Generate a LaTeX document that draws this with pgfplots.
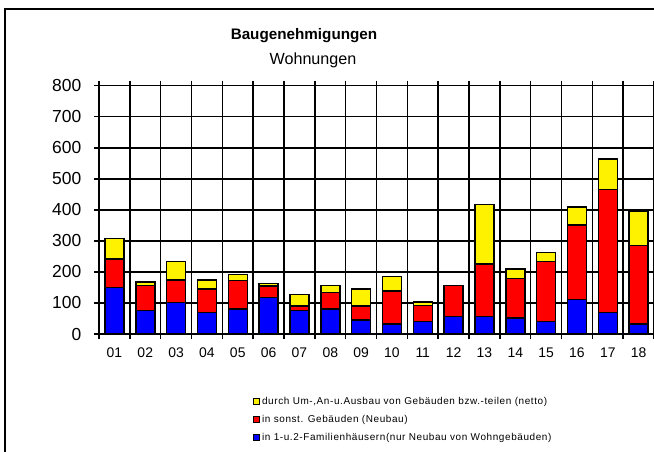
\documentclass[border=0pt]{standalone}
\usepackage{pgfplots}
\pgfplotsset{compat=1.18}
\usepackage{fontspec}
\setmainfont{Liberation Sans}
\newfontfamily\legfont[LetterSpace=6]{Liberation Sans}
\begin{document}
\begin{tikzpicture}[x=1bp,y=1bp]
\useasboundingbox (0,0) rectangle (654,-452);
\begin{scope}
\clip (0,0) rectangle (654,-452);
\draw[line width=1.4bp] (5,-9) rectangle (700,-500);
\end{scope}
\node[font=\bfseries\fontsize{15.3}{18}\selectfont, anchor=base, inner sep=0pt] at (304,-40) {Baugenehmigungen};
\node[font=\fontsize{16.2}{19}\selectfont, anchor=base, inner sep=0pt] at (313,-65) {Wohnungen};
\begin{axis}[
  at={(99bp,-334bp)}, anchor=south west,
  scale only axis, width=555bp, height=248.3bp,
  xmin=0.5, xmax=18.5, ymin=0, ymax=800,
  ybar stacked, bar width=19bp,
  axis line style={line width=1.5bp, black},
  xtick={1,...,18},
  xticklabels={01,02,03,04,05,06,07,08,09,10,11,12,13,14,15,16,17,18},
  minor xtick={0.5,1.5,...,18.5},
  ytick={0,100,...,800},
  xmajorgrids=false, xminorgrids=true, ymajorgrids=true,
  grid style={line width=1.5bp, black},
  minor grid style={line width=1.5bp, black},
  major x tick style={draw=none},
  minor x tick style={line width=1.5bp, black},
  major y tick style={line width=1.5bp, black},
  tick align=outside, major tick length=5bp, minor tick length=5bp,
  /pgf/number format/assume math mode=true,
  yticklabel style={font=\fontsize{17.5}{20}\selectfont, inner sep=0pt, xshift=-12.5bp},
  xticklabel style={font=\fontsize{14}{17}\selectfont, inner sep=0pt, yshift=-9bp},
  reverse legend,
  legend cell align=left,
  legend style={draw=none, fill=none, at={(0.278,-0.245)}, anchor=north west,
    font=\legfont\fontsize{10}{11}\selectfont, row sep=5.5bp, inner sep=0pt},
  legend image code/.code={\draw[#1, draw=black, line width=0.6bp] (0bp,-3bp) rectangle (6bp,3bp);},
]
\addplot[fill=blue, draw=black, line width=1.5bp] coordinates {
(1,150) (2,75) (3,102) (4,69) (5,80) (6,117) (7,75) (8,80) (9,45)
(10,33) (11,40) (12,57) (13,57) (14,52) (15,40) (16,111) (17,70) (18,33)};
\addplot[fill=red, draw=black, line width=1.5bp] coordinates {
(1,92) (2,81) (3,72) (4,76) (5,93) (6,38) (7,16) (8,53) (9,46)
(10,106) (11,52) (12,99) (13,169) (14,127) (15,193) (16,240) (17,396) (18,252)};
\addplot[fill=yellow, draw=black, line width=1.5bp] coordinates {
(1,66) (2,11) (3,59) (4,29) (5,19) (6,7) (7,37) (8,24) (9,54)
(10,47) (11,11) (12,0) (13,192) (14,30) (15,29) (16,58) (17,98) (18,110)};
\legend{{in 1-u.2-Familienhäusern(nur Neubau von Wohngebäuden)},
{in sonst. Gebäuden (Neubau)},
{durch Um-,An-u.Ausbau von Gebäuden bzw.-teilen (netto)}}
\end{axis}
\end{tikzpicture}
\end{document}
